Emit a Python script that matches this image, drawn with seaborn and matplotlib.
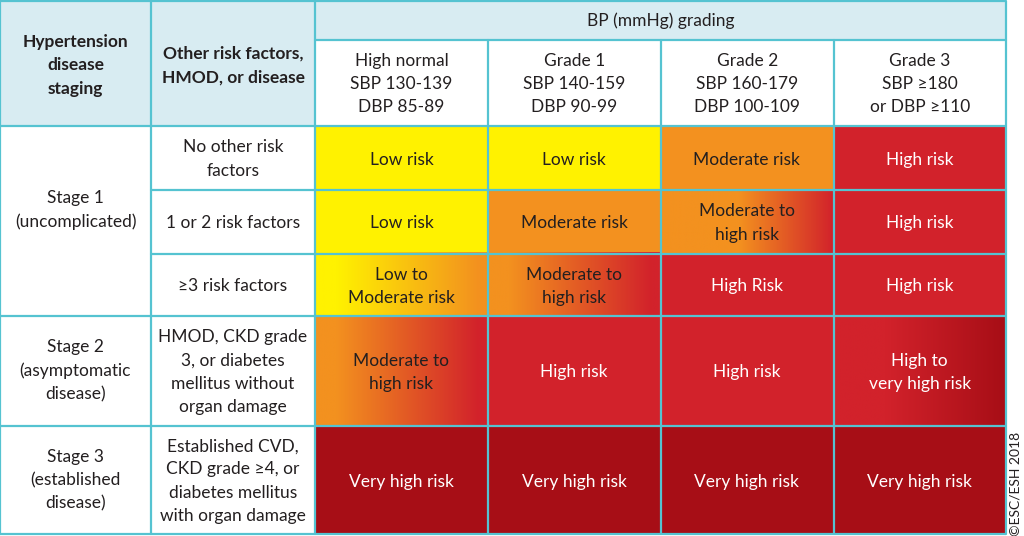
import numpy as np
import matplotlib
matplotlib.use("Agg")
import matplotlib.pyplot as plt
import matplotlib.transforms as mtransforms
import seaborn as sns
from matplotlib.colors import ListedColormap, LinearSegmentedColormap
from matplotlib.patches import Rectangle


# ---- table content ----
STAGES = [
    "Stage 1\n(uncomplicated)",
    "Stage 2\n(asymptomatic\ndisease)",
    "Stage 3\n(established\ndisease)",
]
RISK_FACTORS = [
    "No other risk\nfactors",
    "1 or 2 risk factors",
    "\u22653 risk factors",
    "HMOD, CKD grade\n3, or diabetes\nmellitus without\norgan damage",
    "Established CVD,\nCKD grade \u22654, or\ndiabetes mellitus\nwith organ damage",
]
BP_GRADES = [
    "High normal\nSBP 130-139\nDBP 85-89",
    "Grade 1\nSBP 140-159\nDBP 90-99",
    "Grade 2\nSBP 160-179\nDBP 100-109",
    "Grade 3\nSBP \u2265180\nor DBP \u2265110",
]

# risk level: 0 low, 1 moderate, 2 high, 3 very high
# a cell going from one level to another is drawn as a blend
RISK_FROM = [
    [0, 0, 1, 2],
    [0, 1, 1, 2],
    [0, 1, 2, 2],
    [1, 2, 2, 2],
    [3, 3, 3, 3],
]
RISK_TO = [
    [0, 0, 1, 2],
    [0, 1, 2, 2],
    [1, 2, 2, 2],
    [2, 2, 2, 3],
    [3, 3, 3, 3],
]
RISK_TEXT = [
    ["Low risk", "Low risk", "Moderate risk", "High risk"],
    ["Low risk", "Moderate risk", "Moderate to\nhigh risk", "High risk"],
    ["Low to\nModerate risk", "Moderate to\nhigh risk", "High Risk", "High risk"],
    ["Moderate to\nhigh risk", "High risk", "High risk", "High to\nvery high risk"],
    ["Very high risk", "Very high risk", "Very high risk", "Very high risk"],
]

# ---- style ----
W, H = 1024, 536
COL_X = [0, 151, 315, 488, 661, 834, 1006]
ROW_Y = [1, 40, 126, 190, 254, 316, 426, 534]
RISK_COLORS = ["#fff200", "#f3911f", "#d2222b", "#a70e16"]
BLEND_SPAN = {(1, 2): (0.45, 1.0), (3, 3): (0.3, 1.0)}  # where the colour change sits
LINE = "#55c3d1"
HEAD_BG = "#d8ecf2"
DARK = "#231f20"
FONT = ["Lato", "DejaVu Sans"]
FS = 12.5
LS = 1.55

sns.set_theme(style="white")
plt.rcParams["font.family"] = FONT


def fig_rect(x0, x1, y0, y1):
    return [x0 / W, 1 - y1 / H, (x1 - x0) / W, (y1 - y0) / H]


def draw_block(fig, rows, y0, y1):
    ax = fig.add_axes(fig_rect(COL_X[2], COL_X[6], y0, y1))
    lo = np.array([RISK_FROM[r] for r in rows], dtype=float)
    sns.heatmap(
        lo,
        ax=ax,
        cmap=ListedColormap(RISK_COLORS),
        vmin=-0.5,
        vmax=3.5,
        cbar=False,
        xticklabels=False,
        yticklabels=False,
    )
    # nudge cell text down a couple of pixels
    text_tf = ax.transData + mtransforms.ScaledTranslation(0, -2 / 100, fig.dpi_scale_trans)
    x = np.linspace(0, 1, 256)
    for i, r in enumerate(rows):
        for j in range(4):
            a, b = RISK_FROM[r][j], RISK_TO[r][j]
            if a != b:
                s0, s1 = BLEND_SPAN.get((r, j), (0.12, 0.95))
                t = np.clip((x - s0) / (s1 - s0), 0, 1)[None, :]
                cmap = LinearSegmentedColormap.from_list("blend", [RISK_COLORS[a], RISK_COLORS[b]])
                ax.imshow(t, cmap=cmap, vmin=0, vmax=1, extent=(j, j + 1, i + 1, i),
                          aspect="auto", interpolation="bilinear", zorder=2)
            color = DARK if a <= 1 else "white"
            ax.text(j + 0.5, i + 0.5, RISK_TEXT[r][j], ha="center", va="center",
                    fontsize=FS, color=color, linespacing=LS, zorder=3, transform=text_tf)
    ax.set_xlim(0, 4)
    ax.set_ylim(len(rows), 0)
    ax.set_axis_off()
    return ax


def main():
    fig = plt.figure(figsize=(W / 100, H / 100), dpi=100)
    fig.patch.set_facecolor("white")

    draw_block(fig, [0, 1, 2], ROW_Y[2], ROW_Y[5])
    draw_block(fig, [3, 4], ROW_Y[5], ROW_Y[7])

    ax = fig.add_axes([0, 0, 1, 1], zorder=5)
    ax.set_xlim(0, W)
    ax.set_ylim(H, 0)
    ax.axis("off")

    # header backgrounds
    ax.add_patch(Rectangle((COL_X[0], ROW_Y[0]), COL_X[2] - COL_X[0], ROW_Y[2] - ROW_Y[0],
                           facecolor=HEAD_BG, edgecolor="none"))
    ax.add_patch(Rectangle((COL_X[2], ROW_Y[0]), COL_X[6] - COL_X[2], ROW_Y[1] - ROW_Y[0],
                           facecolor=HEAD_BG, edgecolor="none"))

    head_y = (ROW_Y[0] + ROW_Y[2]) / 2
    ax.text((COL_X[0] + COL_X[1]) / 2, head_y + 2, "Hypertension\ndisease\nstaging",
            ha="center", va="center", fontsize=FS, fontweight="bold", color=DARK, linespacing=LS)
    ax.text((COL_X[1] + COL_X[2]) / 2, head_y + 2, "Other risk factors,\nHMOD, or disease",
            ha="center", va="center", fontsize=FS, fontweight="bold", color=DARK, linespacing=LS)
    ax.text((COL_X[2] + COL_X[6]) / 2, (ROW_Y[0] + ROW_Y[1]) / 2, "BP (mmHg) grading",
            ha="center", va="center", fontsize=FS, color=DARK)
    for j, label in enumerate(BP_GRADES):
        ax.text((COL_X[j + 2] + COL_X[j + 3]) / 2, (ROW_Y[1] + ROW_Y[2]) / 2 + 1, label,
                ha="center", va="center", fontsize=FS, color=DARK, linespacing=LS)

    # stage column
    stage_rows = [(ROW_Y[2], ROW_Y[5] - 22), (ROW_Y[5], ROW_Y[6]), (ROW_Y[6], ROW_Y[7])]
    for label, (y0, y1) in zip(STAGES, stage_rows):
        ax.text((COL_X[0] + COL_X[1]) / 2, (y0 + y1) / 2, label, ha="center", va="center",
                fontsize=FS, color=DARK, linespacing=LS)
    for i, label in enumerate(RISK_FACTORS):
        ax.text((COL_X[1] + COL_X[2]) / 2, (ROW_Y[i + 2] + ROW_Y[i + 3]) / 2 + 1, label,
                ha="center", va="center", fontsize=FS, color=DARK, linespacing=LS)

    # grid lines
    lw = 1.6
    for y in [ROW_Y[0], ROW_Y[2], ROW_Y[5], ROW_Y[6], ROW_Y[7]]:
        ax.plot([COL_X[0], COL_X[6]], [y, y], color=LINE, lw=lw, solid_capstyle="butt")
    ax.plot([COL_X[2], COL_X[6]], [ROW_Y[1], ROW_Y[1]], color=LINE, lw=lw)
    for y in [ROW_Y[3], ROW_Y[4]]:
        ax.plot([COL_X[1], COL_X[6]], [y, y], color=LINE, lw=lw)
    for x in [COL_X[0], COL_X[1], COL_X[2], COL_X[6]]:
        ax.plot([x, x], [ROW_Y[0], ROW_Y[7]], color=LINE, lw=lw)
    for x in COL_X[3:6]:
        ax.plot([x, x], [ROW_Y[1], ROW_Y[7]], color=LINE, lw=lw)

    ax.text(1016, (ROW_Y[6] + ROW_Y[7]) / 2 + 4, "\u00a9ESC/ESH 2018", rotation=90,
            ha="center", va="center", fontsize=10, color=DARK)

    fig.savefig("out.png", dpi=100, facecolor="white")
    plt.close(fig)


if __name__ == "__main__":
    main()
